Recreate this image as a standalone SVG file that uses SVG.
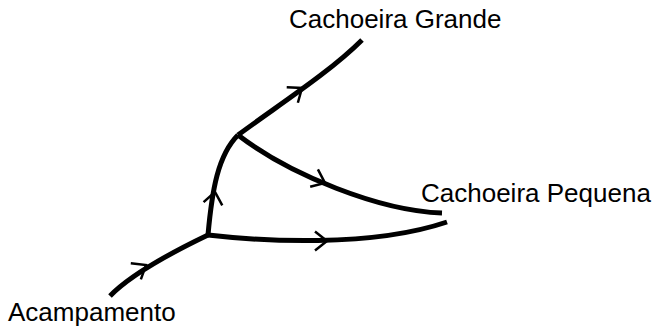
<svg xmlns="http://www.w3.org/2000/svg" width="658" height="328" viewBox="0 0 658 328">
<style>
.line{fill:none;stroke:#000;stroke-width:5}
.chev{fill:none;stroke:#000;stroke-width:2.5;stroke-linecap:butt;stroke-linejoin:miter}
.lbl{font-family:"Liberation Sans",Arial,sans-serif;font-size:26px;fill:#000}
</style>
<defs>
<path id="chev" class="chev" d="M-12,-9.5 L0,0 L-12,9.5"/>
</defs>
<rect width="658" height="328" fill="#fff"/>
<g id="connectors">
<path class="line" d="M110,296 Q135,270 208,235"/>
<path class="line" d="M208,235 C212,190 218,155 238,135"/>
<path class="line" d="M238,135 C280,104 330,72 362,40"/>
<path class="line" d="M238,135 C290,175 380,211 442,213"/>
<path class="line" d="M208,235 C260,241 370,248 447,222"/>
<use href="#chev" transform="translate(146,265) rotate(-32)"/>
<use href="#chev" transform="translate(215,192) rotate(-80)"/>
<use href="#chev" transform="translate(302,88) rotate(-36)"/>
<use href="#chev" transform="translate(325,183) rotate(24)"/>
<use href="#chev" transform="translate(327,241) rotate(0)"/>
</g>
<g id="node-grande"><text class="lbl" x="289" y="28">Cachoeira Grande</text></g>
<g id="node-pequena"><text class="lbl" x="421" y="202">Cachoeira Pequena</text></g>
<g id="node-acampamento"><text class="lbl" x="8" y="321">Acampamento</text></g>
</svg>
